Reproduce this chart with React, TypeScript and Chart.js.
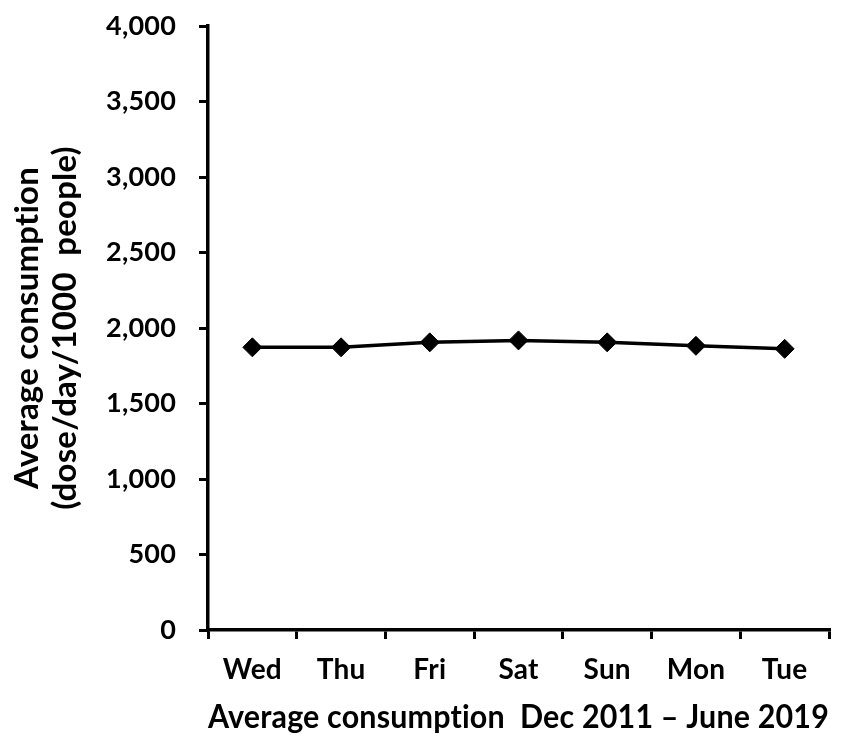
import React, { useRef, useEffect } from "react";
import Chart from "chart.js/auto";

const days = ["Wed", "Thu", "Fri", "Sat", "Sun", "Mon", "Tue"];
const consumption = [1872, 1872, 1905, 1918, 1905, 1882, 1862];
const yTitle = ["Average consumption", "(dose/day/1000  people)"];
const xTitle = "Average consumption  Dec 2011 \u2013 June 2019";

const FONT = "Lato, 'Noto Sans', sans-serif";

// a tiny letter spacing stops Lato from drawing its "ti" ligature
const noLigatures = {
  id: "noLigatures",
  beforeDraw: (chart: Chart) => {
    (chart.ctx as any).letterSpacing = "0.2px";
  },
};

const App = () => {
  const canvasRef = useRef<HTMLCanvasElement>(null);
  const chartRef = useRef<Chart | null>(null);

  useEffect(() => {
    document.body.style.margin = "0";
    const ctx = canvasRef.current?.getContext("2d");
    if (!ctx) return;
    if (chartRef.current) chartRef.current.destroy();

    chartRef.current = new Chart(ctx, {
      type: "line",
      data: {
        labels: days,
        datasets: [
          {
            label: "Average consumption",
            data: consumption,
            borderColor: "#000",
            backgroundColor: "#000",
            borderWidth: 3.5,
            pointStyle: "rectRot",
            pointRadius: 9.5,
            pointBorderWidth: 1,
            tension: 0,
          },
        ],
      },
      plugins: [noLigatures],
      options: {
        animation: false,
        responsive: false,
        layout: { padding: { top: 26, right: 26, left: 8, bottom: 14 } },
        plugins: {
          legend: { display: false },
          tooltip: { enabled: false },
        },
        scales: {
          x: {
            offset: true,
            grid: {
              offset: true,
              drawOnChartArea: false,
              drawTicks: true,
              tickLength: 9,
              color: "#000",
              lineWidth: 3,
            },
            border: { display: true, color: "#000", width: 3.5 },
            ticks: {
              color: "#000",
              padding: 14,
              font: { family: FONT, size: 28, weight: "bold" },
            },
            title: {
              display: true,
              text: xTitle,
              color: "#000",
              padding: { top: 16, bottom: 0 },
              font: { family: FONT, size: 33, weight: "bold" },
            },
            afterFit: (scale: any) => {
              scale.height = 107;
            },
          },
          y: {
            min: 0,
            max: 4000,
            ticks: {
              stepSize: 500,
              color: "#000",
              padding: 23,
              font: { family: FONT, size: 27, weight: "bold" },
              callback: (v) => Number(v).toLocaleString("en-US"),
            },
            grid: {
              drawOnChartArea: false,
              drawTicks: true,
              tickLength: 9,
              color: "#000",
              lineWidth: 3,
            },
            border: { display: true, color: "#000", width: 3.5 },
            title: {
              display: true,
              text: yTitle,
              color: "#000",
              padding: { top: 0, bottom: 12 },
              font: { family: FONT, size: 33, weight: "bold", lineHeight: 1.15 },
            },
            afterFit: (scale: any) => {
              scale.width = 200;
              scale.paddingTop = 0;
              scale.paddingBottom = 0;
            },
          },
        },
      },
    });

    return () => {
      if (chartRef.current) {
        chartRef.current.destroy();
        chartRef.current = null;
      }
    };
  }, []);

  return (
    <div style={{ width: 855, height: 751, background: "#fff" }}>
      <canvas ref={canvasRef} width={855} height={751} />
    </div>
  );
};

export default App;
